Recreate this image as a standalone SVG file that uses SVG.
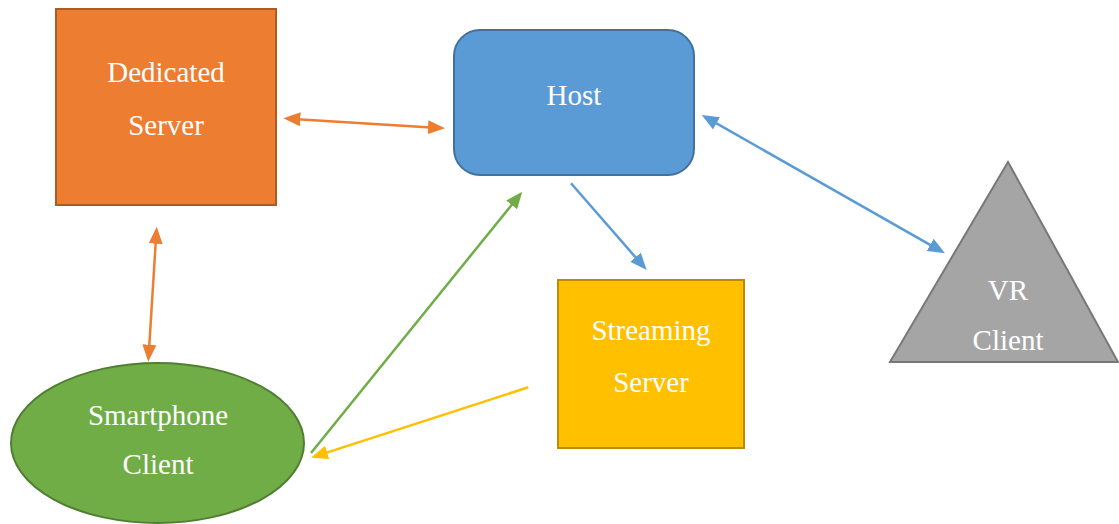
<svg xmlns="http://www.w3.org/2000/svg" width="1119" height="524" viewBox="0 0 1119 524">
  <style>
    .lbl { font-family: "Liberation Serif", "Times New Roman", "DejaVu Serif", serif; font-size: 29px; fill: #FFFFFF; text-anchor: middle; }
    .conn { fill: none; stroke-width: 2.5; }
  </style>
  <defs>
    <marker id="arrOrange" markerUnits="userSpaceOnUse" markerWidth="17" markerHeight="15" viewBox="0 0 17 15" refX="7" refY="7.5" orient="auto-start-reverse">
      <path d="M0,0.5 L17,7.5 L0,14.5 z" fill="#ED7D31"/>
    </marker>
    <marker id="arrBlue" markerUnits="userSpaceOnUse" markerWidth="17" markerHeight="15" viewBox="0 0 17 15" refX="7" refY="7.5" orient="auto-start-reverse">
      <path d="M0,0.5 L17,7.5 L0,14.5 z" fill="#5B9BD5"/>
    </marker>
    <marker id="arrGreen" markerUnits="userSpaceOnUse" markerWidth="17" markerHeight="15" viewBox="0 0 17 15" refX="7" refY="7.5" orient="auto-start-reverse">
      <path d="M0,0.5 L17,7.5 L0,14.5 z" fill="#70AD47"/>
    </marker>
    <marker id="arrYellow" markerUnits="userSpaceOnUse" markerWidth="17" markerHeight="15" viewBox="0 0 17 15" refX="7" refY="7.5" orient="auto-start-reverse">
      <path d="M0,0.5 L17,7.5 L0,14.5 z" fill="#FFC000"/>
    </marker>
  </defs>
  <rect width="1119" height="524" fill="#FFFFFF"/>

  <g id="dedicated-server">
    <rect x="56" y="9" width="220" height="196" fill="#ED7D31" stroke="#AE5A21" stroke-width="2"/>
    <text class="lbl" x="166" y="82">Dedicated</text>
    <text class="lbl" x="166" y="135">Server</text>
  </g>

  <g id="host">
    <rect x="454" y="30" width="240" height="145" rx="26" ry="26" fill="#5B9BD5" stroke="#41719C" stroke-width="2"/>
    <text class="lbl" x="574" y="105">Host</text>
  </g>

  <g id="streaming-server">
    <rect x="558" y="280" width="186" height="168" fill="#FFC000" stroke="#BC8C00" stroke-width="2"/>
    <text class="lbl" x="651" y="340">Streaming</text>
    <text class="lbl" x="651" y="392">Server</text>
  </g>

  <g id="smartphone-client">
    <ellipse cx="157.5" cy="443" rx="146.5" ry="80" fill="#70AD47" stroke="#507E32" stroke-width="2"/>
    <text class="lbl" x="158" y="425">Smartphone</text>
    <text class="lbl" x="158" y="474">Client</text>
  </g>

  <g id="vr-client">
    <polygon points="1008,162 1118,362 890,362" fill="#A5A5A5" stroke="#787878" stroke-width="2"/>
    <text class="lbl" x="1008" y="300">VR</text>
    <text class="lbl" x="1008" y="350">Client</text>
  </g>

  <g id="connectors">
    <line class="conn" x1="293.3" y1="118.9" x2="435" y2="127.7" stroke="#ED7D31" marker-start="url(#arrOrange)" marker-end="url(#arrOrange)"/>
    <line class="conn" x1="156.1" y1="236.7" x2="148.9" y2="351.7" stroke="#ED7D31" marker-start="url(#arrOrange)" marker-end="url(#arrOrange)"/>
    <line class="conn" x1="311" y1="453" x2="516" y2="199.5" stroke="#70AD47" marker-end="url(#arrGreen)"/>
    <line class="conn" x1="528.3" y1="387.3" x2="320.5" y2="454.6" stroke="#FFC000" marker-end="url(#arrYellow)"/>
    <line class="conn" x1="571" y1="183.3" x2="640.1" y2="262.5" stroke="#5B9BD5" marker-end="url(#arrBlue)"/>
    <line class="conn" x1="710.4" y1="119.9" x2="936.3" y2="248.4" stroke="#5B9BD5" marker-start="url(#arrBlue)" marker-end="url(#arrBlue)"/>
  </g>
</svg>
